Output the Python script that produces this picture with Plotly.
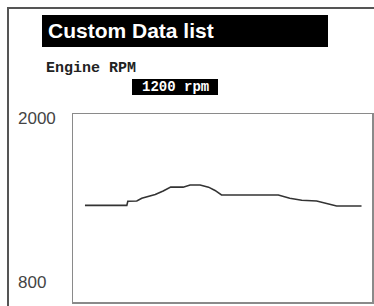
import plotly.graph_objects as go

# ---- data ----
title_text = "Custom Data list"
param_name = "Engine RPM"
current_value = "1200 rpm"
y_tick_values = [2000, 800]
y_tick_labels = ["2000", "800"]
time_s = [2.4, 10.8, 11.0, 12.8, 13.8, 15.1, 16.5, 18.1, 19.6, 22.1, 23.5,
          25.5, 27.2, 28.5, 29.8, 41.2, 43.5, 45.9, 48.9, 50.9, 52.9, 57.9]
rpm = [1417, 1417, 1443, 1445, 1462, 1475, 1486, 1509, 1533, 1533, 1547,
       1547, 1533, 1512, 1483, 1483, 1462, 1449, 1445, 1429, 1413, 1413]

W, H = 374, 306


def px(x):
    return x / W


def py(y):
    return 1 - y / H


fig = go.Figure()
fig.add_trace(go.Scatter(x=time_s, y=rpm, mode="lines",
                         line=dict(color="#333333", width=1.6),
                         hoverinfo="skip", showlegend=False))

fig.update_layout(
    width=W, height=H,
    margin=dict(l=0, r=0, t=0, b=0),
    paper_bgcolor="white", plot_bgcolor="white",
    xaxis=dict(domain=[px(73), px(372)], range=[0, 60], showgrid=False,
               zeroline=False, showticklabels=False, ticks="",
               showline=True, mirror=True, linecolor="#8a8a8a", linewidth=1.5),
    yaxis=dict(domain=[py(302), py(114)], range=[800, 2000], showgrid=False,
               zeroline=False, showticklabels=False, ticks="",
               showline=True, mirror=True, linecolor="#8a8a8a", linewidth=1.5),
    shapes=[
        # outer screen frame
        dict(type="line", xref="paper", yref="paper", x0=px(7), x1=1.0,
             y0=py(8), y1=py(8), line=dict(color="#555555", width=2)),
        dict(type="line", xref="paper", yref="paper", x0=px(8), x1=px(8),
             y0=0, y1=py(8), line=dict(color="#555555", width=2)),
        # title bar
        dict(type="rect", xref="paper", yref="paper", x0=px(42), x1=px(328),
             y0=py(47), y1=py(15), fillcolor="black", line=dict(width=0)),
        # value box
        dict(type="rect", xref="paper", yref="paper", x0=px(132), x1=px(218),
             y0=py(95), y1=py(79), fillcolor="black", line=dict(width=0)),
    ],
)

annotations = [
    dict(text=title_text, xref="paper", yref="paper", x=px(46), y=py(31),
         xanchor="left", yanchor="middle", showarrow=False,
         font=dict(family="Liberation Sans, Arial", size=21, color="white",
                   weight="bold")),
    dict(text=param_name, xref="paper", yref="paper", x=px(44), y=py(68),
         xanchor="left", yanchor="middle", showarrow=False,
         font=dict(family="Liberation Mono, Courier New", size=15,
                   color="#222222", weight="bold")),
    dict(text=current_value, xref="paper", yref="paper", x=px(175), y=py(87),
         xanchor="center", yanchor="middle", showarrow=False,
         font=dict(family="Liberation Mono, Courier New", size=14,
                   color="white", weight="bold")),
]
shifts = [-4, 20]
for v, lab, s in zip(y_tick_values, y_tick_labels, shifts):
    annotations.append(dict(text=lab, xref="paper", yref="y", x=px(16), y=v,
                            yshift=s, xanchor="left", yanchor="middle",
                            showarrow=False,
                            font=dict(family="Liberation Sans, Arial", size=17,
                                      color="#444444")))
fig.update_layout(annotations=annotations)

fig.write_html("out.html",
               config={"displayModeBar": False, "staticPlot": True},
               post_script="document.body.style.margin='0';"
                           "document.body.style.overflow='hidden';")
